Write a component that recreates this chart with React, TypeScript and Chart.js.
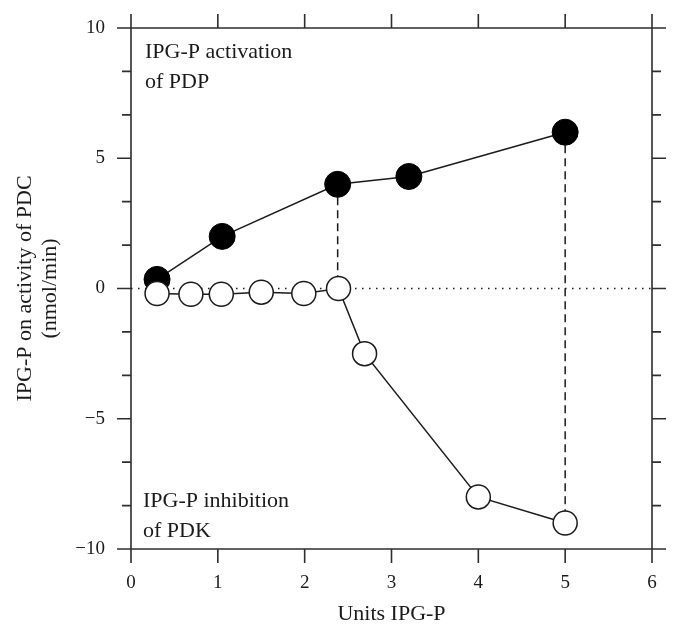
import React, { useEffect, useRef } from "react";
import { Chart, registerables } from "chart.js";

Chart.register(...registerables);

// ---- data ----
const activationX = [0.3, 1.05, 2.38, 3.2, 5.0];
const activationY = [0.35, 2.0, 4.0, 4.3, 6.0];
const inhibitionX = [0.3, 0.69, 1.04, 1.5, 1.99, 2.39, 2.69, 4.0, 5.0];
const inhibitionY = [-0.19, -0.22, -0.22, -0.14, -0.19, 0, -2.5, -8.0, -9.0];
// dashed connectors: [activation index, inhibition index]
const connectorPairs = [
  [2, 5],
  [4, 8],
];
const xTickValues = [0, 1, 2, 3, 4, 5, 6];
const yTickValues = [-10, -5, 0, 5, 10];
const yMinorPerMajor = 3;
const activationLabel = ["IPG-P activation", "of PDP"];
const inhibitionLabel = ["IPG-P inhibition", "of PDK"];
const xTitle = "Units IPG-P";
const yTitle = ["IPG-P on activity of PDC", "(nmol/min)"];

const FONT = "'Liberation Serif', 'DejaVu Serif', serif";
const INK = "#1a1a1a";
const AXIS = "#2e2e2e";

const framePlugin = {
  id: "frameTicks",
  beforeDatasetsDraw(chart: any) {
    const { ctx, chartArea, scales } = chart;
    const { left, right, top, bottom } = chartArea;
    const x = scales.x;
    const y = scales.y;
    ctx.save();
    ctx.strokeStyle = AXIS;
    ctx.lineWidth = 1.6;
    ctx.beginPath();
    ctx.rect(left, top, right - left, bottom - top);
    for (const v of xTickValues) {
      const px = x.getPixelForValue(v);
      ctx.moveTo(px, bottom);
      ctx.lineTo(px, bottom + 14);
      ctx.moveTo(px, top);
      ctx.lineTo(px, top - 14);
    }
    for (let i = 0; i < yTickValues.length; i++) {
      const v0 = yTickValues[i];
      const steps = i < yTickValues.length - 1 ? yMinorPerMajor : 1;
      const next = i < yTickValues.length - 1 ? yTickValues[i + 1] : v0;
      for (let k = 0; k < steps; k++) {
        const v = v0 + ((next - v0) * k) / yMinorPerMajor;
        const len = k === 0 ? 14 : 9;
        const py = y.getPixelForValue(v);
        ctx.moveTo(left - len, py);
        ctx.lineTo(left, py);
        ctx.moveTo(right, py);
        ctx.lineTo(right + len, py);
      }
    }
    ctx.stroke();
    ctx.restore();
  },
  afterDraw(chart: any) {
    const { ctx, chartArea } = chart;
    const { left, top, bottom } = chartArea;
    ctx.save();
    ctx.fillStyle = INK;
    ctx.font = `22px ${FONT}`;
    ctx.textAlign = "left";
    ctx.textBaseline = "alphabetic";
    ctx.fillText(activationLabel[0], left + 14, top + 30);
    ctx.fillText(activationLabel[1], left + 14, top + 60);
    ctx.fillText(inhibitionLabel[0], left + 12, bottom - 42);
    ctx.fillText(inhibitionLabel[1], left + 12, bottom - 12);
    ctx.restore();
  },
};

export default function App() {
  const ref = useRef<HTMLCanvasElement | null>(null);

  useEffect(() => {
    if (!ref.current) return;
    const actPts = activationX.map((x, i) => ({ x, y: activationY[i] }));
    const inhPts = inhibitionX.map((x, i) => ({ x, y: inhibitionY[i] }));
    const connectors = connectorPairs.map(([a, b]) => ({
      type: "line" as const,
      data: [actPts[a], { x: actPts[a].x, y: inhPts[b].y }],
      borderColor: INK,
      borderWidth: 1.5,
      borderDash: [8, 5],
      pointRadius: 0,
      fill: false,
    }));

    const chart = new Chart(ref.current, {
      type: "line",
      data: {
        datasets: [
          {
            data: inhPts,
            borderColor: INK,
            borderWidth: 1.5,
            pointRadius: 12,
            pointBackgroundColor: "#ffffff",
            pointBorderColor: INK,
            pointBorderWidth: 1.5,
            fill: false,
          },
          {
            data: actPts,
            borderColor: INK,
            borderWidth: 1.5,
            pointRadius: 13,
            pointBackgroundColor: "#000000",
            pointBorderColor: "#000000",
            pointBorderWidth: 1,
            fill: false,
          },
          ...connectors,
          {
            data: [
              { x: xTickValues[0], y: 0 },
              { x: xTickValues[xTickValues.length - 1], y: 0 },
            ],
            borderColor: INK,
            borderWidth: 1.5,
            borderDash: [1.5, 5.5],
            pointRadius: 0,
            fill: false,
          },
        ],
      },
      options: {
        animation: false,
        responsive: true,
        maintainAspectRatio: false,
        layout: { padding: { top: 20, right: 21, left: 0, bottom: 0 } },
        plugins: {
          legend: { display: false },
          tooltip: { enabled: false },
        },
        elements: { line: { tension: 0 } },
        scales: {
          x: {
            type: "linear",
            min: 0,
            max: 6,
            grid: { display: false, drawTicks: false },
            border: { display: false },
            afterBuildTicks: (s: any) => {
              s.ticks = xTickValues.map((v) => ({ value: v }));
            },
            afterFit: (s: any) => {
              s.height = 78;
              s.paddingLeft = 0;
              s.paddingRight = 0;
            },
            ticks: {
              padding: 23,
              color: INK,
              font: { family: FONT, size: 19 },
              maxRotation: 0,
            },
            title: {
              display: true,
              text: xTitle,
              color: INK,
              font: { family: FONT, size: 22, lineHeight: 1.15 },
              padding: { top: 0, bottom: 0 },
            },
          },
          y: {
            type: "linear",
            min: -10,
            max: 10,
            grid: { display: false, drawTicks: false },
            border: { display: false },
            afterBuildTicks: (s: any) => {
              s.ticks = yTickValues.map((v) => ({ value: v }));
            },
            afterFit: (s: any) => {
              s.width = 123;
              s.paddingTop = 0;
              s.paddingBottom = 0;
            },
            ticks: {
              padding: 26,
              color: INK,
              font: { family: FONT, size: 19 },
              callback: (v: any) => (Number(v) < 0 ? "\u2212" + Math.abs(Number(v)) : String(v)),
            },
            title: {
              display: true,
              text: yTitle,
              color: INK,
              font: { family: FONT, size: 22, lineHeight: 1.15 },
              padding: { top: 4.35, bottom: 0 },
            },
          },
        },
      },
      plugins: [framePlugin],
    });
    return () => chart.destroy();
  }, []);

  return (
    <div style={{ width: 665, height: 619, position: "relative" }}>
      <canvas ref={ref} />
    </div>
  );
}
